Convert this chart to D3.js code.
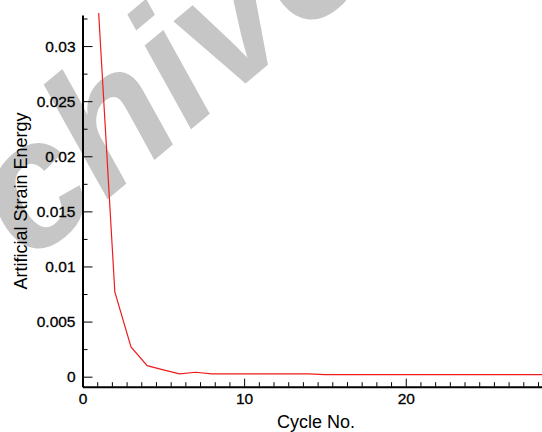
<!DOCTYPE html>
<html>
<head>
<meta charset="utf-8">
<script src="https://cdn.jsdelivr.net/npm/d3@7"></script>
<style>
  html, body { margin: 0; padding: 0; background: #fff; }
  svg { display: block; }
  text { font-family: Arial, "Liberation Sans", sans-serif; }
</style>
</head>
<body>
<div id="chart"></div>
<script>
// cycle number vs artificial strain energy
const cycles = [1, 2, 3, 4, 5, 6, 7, 8, 9, 10, 11, 12, 13, 14, 15, 16, 17, 18, 19, 20, 21, 22, 23, 24, 25, 26, 27, 28, 29]
const energy = [0.0330, 0.0077, 0.0027, 0.0010, 0.00062, 0.00025, 0.00040, 0.00026, 0.00026, 0.00026, 0.00026, 0.00026, 0.00026, 0.00026, 0.00018, 0.00018, 0.00018, 0.00018, 0.00018, 0.00018, 0.00018, 0.00018, 0.00018, 0.00018, 0.00018, 0.00018, 0.00018, 0.00018, 0.00018]
const xTicks = [0, 10, 20]
const yTicks = [0, 0.005, 0.01, 0.015, 0.02, 0.025, 0.03]
const yLabels = ['0', '0.005', '0.01', '0.015', '0.02', '0.025', '0.03']

const width = 542
const height = 432
const plotLeft = 82.5
const plotBottom = 386.7
const plotTop = 15

const x = d3.scaleLinear().domain([0, 28.43]).range([plotLeft, width])
const y = d3.scaleLinear().domain([-0.00091, 0.03282]).range([plotBottom, plotTop])

// minor ticks: 10 between x majors, 1 between y majors
const xMinor = []
for (let i = 0; i < 3; i++) {
  for (let k = 1; k <= 10; k++) xMinor.push(xTicks[0] + i * 10 + k * 10 / 11)
}
const yMinor = yTicks.map(d => d + 0.0025)

const svg = d3.select('#chart')
  .append('svg')
  .attr('width', width)
  .attr('height', height)

// faint watermark behind the plot
svg.append('text')
  .attr('transform', 'translate(-122,392) rotate(-40)')
  .attr('font-family', '"Liberation Serif", "Times New Roman", serif')
  .attr('font-style', 'italic')
  .attr('font-weight', 'bold')
  .attr('font-size', 178)
  .attr('fill', '#c6c6c6')
  .text('Archive')

svg.append('defs').append('clipPath')
  .attr('id', 'plot')
  .append('rect')
  .attr('x', plotLeft)
  .attr('y', 0)
  .attr('width', width - plotLeft)
  .attr('height', plotBottom)

const line = d3.line()
  .x((d, i) => x(cycles[i]))
  .y(d => y(d))

svg.append('path')
  .datum(energy)
  .attr('clip-path', 'url(#plot)')
  .attr('fill', 'none')
  .attr('stroke', '#ee1c1c')
  .attr('stroke-width', 1.2)
  .attr('d', line)

// y axis
const yAxis = svg.append('g')
  .attr('transform', `translate(${plotLeft},0)`)
  .call(d3.axisLeft(y)
    .tickValues(yTicks)
    .tickFormat((d, i) => yLabels[i])
    .tickSizeInner(-10)
    .tickSizeOuter(0)
    .tickPadding(7))
yAxis.select('.domain').attr('stroke-width', 2)
yAxis.selectAll('text').attr('font-size', 15.5).attr('fill', '#000')
  .attr('stroke', '#000').attr('stroke-width', 0.3)

svg.append('g')
  .attr('transform', `translate(${plotLeft},0)`)
  .call(d3.axisLeft(y)
    .tickValues(yMinor)
    .tickFormat('')
    .tickSizeInner(-5)
    .tickSizeOuter(0))
  .call(g => g.select('.domain').remove())

// x axis
const xAxis = svg.append('g')
  .attr('transform', `translate(0,${plotBottom})`)
  .call(d3.axisBottom(x)
    .tickValues(xTicks)
    .tickSizeInner(-8)
    .tickSizeOuter(0)
    .tickPadding(6))
xAxis.select('.domain').attr('stroke-width', 2)
xAxis.selectAll('text').attr('font-size', 15.5).attr('fill', '#000')
  .attr('stroke', '#000').attr('stroke-width', 0.3)

svg.append('g')
  .attr('transform', `translate(0,${plotBottom})`)
  .call(d3.axisBottom(x)
    .tickValues(xMinor)
    .tickFormat('')
    .tickSizeInner(-4.5)
    .tickSizeOuter(0))
  .call(g => g.select('.domain').remove())

svg.append('text')
  .attr('x', 316)
  .attr('y', 428)
  .attr('text-anchor', 'middle')
  .attr('font-size', 18)
  .text('Cycle No.')

svg.append('text')
  .attr('transform', 'translate(27,201) rotate(-90)')
  .attr('text-anchor', 'middle')
  .attr('font-size', 18)
  .text('Artificial Strain Energy')
</script>
</body>
</html>
